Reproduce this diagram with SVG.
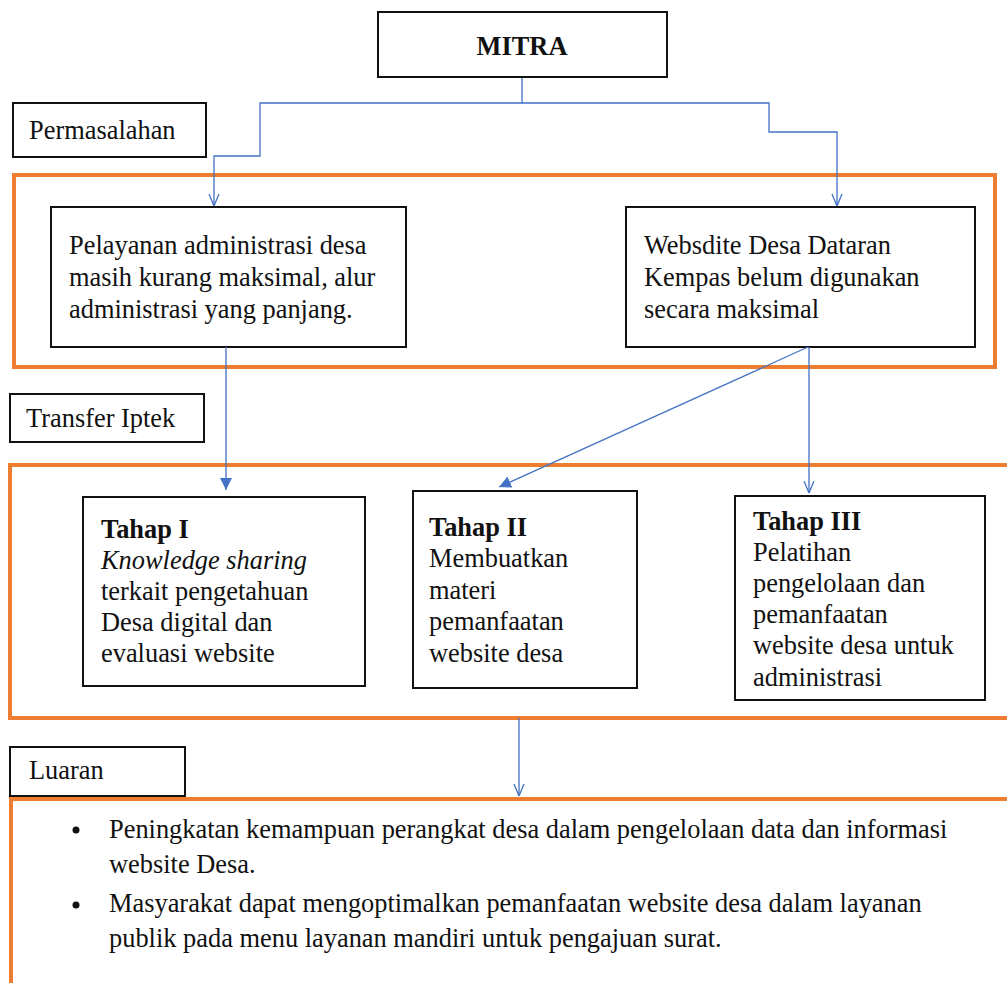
<svg xmlns="http://www.w3.org/2000/svg" width="1007" height="983" viewBox="0 0 1007 983">
<defs>
<style>
.t{font-family:"Liberation Serif","Times New Roman",serif;font-size:26.4px;fill:#111}
.b{font-weight:bold}
.i{font-style:italic}
.box{fill:#fff;stroke:#111;stroke-width:2}
.grp{fill:none;stroke:#ED7D31;stroke-width:4}
.c{fill:none;stroke:#4472C4;stroke-width:1.3}
</style>
<marker id="open" viewBox="0 0 12 12" refX="12" refY="6" markerWidth="12" markerHeight="12" markerUnits="userSpaceOnUse" orient="auto">
<path d="M0,1 L12,6 L0,11" fill="none" stroke="#4472C4" stroke-width="1.3"/>
</marker>
<marker id="solid" viewBox="0 0 12 12" refX="12" refY="6" markerWidth="12" markerHeight="12" markerUnits="userSpaceOnUse" orient="auto">
<path d="M0,0 L12,6 L0,12 Z" fill="#4472C4"/>
</marker>
</defs>
<rect width="1007" height="983" fill="#fff"/>

<g id="group-permasalahan"><rect class="grp" x="14" y="175" width="981" height="192"/></g>
<g id="group-transfer"><rect class="grp" x="10" y="465" width="1010" height="253"/></g>
<g id="group-luaran"><rect class="grp" x="11" y="799" width="1010" height="200"/></g>

<g id="mitra"><rect class="box" x="378" y="12" width="289" height="65"/><text class="t b" x="522" y="55" text-anchor="middle">MITRA</text></g>
<g id="label-permasalahan"><rect class="box" x="13" y="103" width="193" height="54"/><text class="t" x="29" y="139">Permasalahan</text></g>
<g id="pelayanan"><rect class="box" x="51" y="207" width="355" height="140"/>
<text class="t" x="69" y="254">Pelayanan administrasi desa</text>
<text class="t" x="69" y="286">masih kurang maksimal, alur</text>
<text class="t" x="69" y="318">administrasi yang panjang.</text></g>
<g id="website"><rect class="box" x="626" y="207" width="349" height="140"/>
<text class="t" x="644" y="254">Websdite Desa Dataran</text>
<text class="t" x="644" y="286">Kempas belum digunakan</text>
<text class="t" x="644" y="318">secara maksimal</text></g>
<g id="label-transfer"><rect class="box" x="10" y="394" width="194" height="48"/><text class="t" x="26" y="427">Transfer Iptek</text></g>
<g id="tahap1"><rect class="box" x="83" y="497" width="282" height="189"/>
<text class="t b" x="101" y="538">Tahap I</text>
<text class="t i" x="101" y="569">Knowledge sharing</text>
<text class="t" x="101" y="600">terkait pengetahuan</text>
<text class="t" x="101" y="631">Desa digital dan</text>
<text class="t" x="101" y="662">evaluasi website</text></g>
<g id="tahap2"><rect class="box" x="413" y="491" width="224" height="197"/>
<text class="t b" x="429" y="536">Tahap II</text>
<text class="t" x="429" y="567">Membuatkan</text>
<text class="t" x="429" y="599">materi</text>
<text class="t" x="429" y="630">pemanfaatan</text>
<text class="t" x="429" y="662">website desa</text></g>
<g id="tahap3"><rect class="box" x="735" y="496" width="250" height="204"/>
<text class="t b" x="753" y="530">Tahap III</text>
<text class="t" x="753" y="561">Pelatihan</text>
<text class="t" x="753" y="592">pengelolaan dan</text>
<text class="t" x="753" y="623">pemanfaatan</text>
<text class="t" x="753" y="654">website desa untuk</text>
<text class="t" x="753" y="686">administrasi</text></g>
<g id="label-luaran"><rect class="box" x="10" y="747" width="175" height="49"/><text class="t" x="29" y="779">Luaran</text></g>
<g id="luaran-list">
<circle cx="76" cy="830" r="3.5" fill="#111"/>
<text class="t" x="109" y="838">Peningkatan kemampuan perangkat desa dalam pengelolaan data dan informasi</text>
<text class="t" x="109" y="873">website Desa.</text>
<circle cx="76" cy="905" r="3.5" fill="#111"/>
<text class="t" x="109" y="912">Masyarakat dapat mengoptimalkan pemanfaatan website desa dalam layanan</text>
<text class="t" x="109" y="947">publik pada menu layanan mandiri untuk pengajuan surat.</text>
</g>

<g id="connectors">
<path class="c" d="M522,78 V103 H260 V156 H214 V206" marker-end="url(#open)"/>
<path class="c" d="M522,103 H769 V132 H837 V206" marker-end="url(#open)"/>
<path class="c" d="M226,347 V490" marker-end="url(#solid)"/>
<path class="c" d="M808,347 L499,487" marker-end="url(#solid)"/>
<path class="c" d="M809,347 V493" marker-end="url(#open)"/>
<path class="c" d="M519,718 V796" marker-end="url(#open)"/>
</g>
</svg>
